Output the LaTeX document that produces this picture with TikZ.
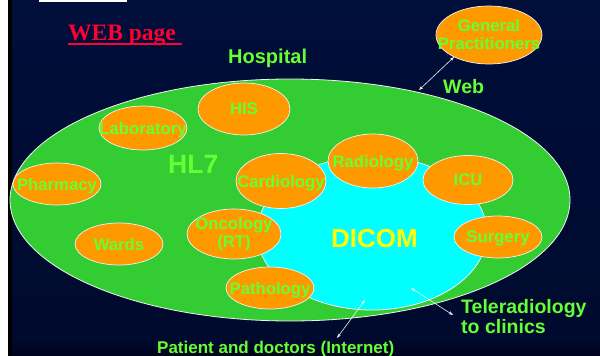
\documentclass[tikz,border=0pt]{standalone}
\usepackage{fontspec}
\setmainfont{Liberation Sans}
\newfontfamily\webserif{Liberation Serif}
\usetikzlibrary{shapes.geometric,arrows.meta}

\definecolor{navytop}{HTML}{000E3A}
\definecolor{navybot}{HTML}{000A2E}
\definecolor{navyband}{HTML}{00031C}
\definecolor{hospgreen}{HTML}{33CC33}
\definecolor{dicomcyan}{HTML}{00FFFF}
\definecolor{deptorange}{HTML}{FF9900}
\definecolor{limetext}{HTML}{66FF33}
\definecolor{dicomyellow}{HTML}{FFFF00}
\definecolor{webred}{HTML}{FF0033}
\definecolor{rimwhite}{HTML}{F2F2F2}

\tikzset{
  dept/.style={ellipse, draw=rimwhite, fill=deptorange, line width=0.7pt, inner sep=0pt},
  deptlabel/.style={text=limetext, font=\bfseries\fontsize{16.7}{18}\selectfont, align=center, inner sep=0pt},
  oneline/.style={deptlabel, text depth=0pt},
  caption/.style={text=limetext, font=\bfseries\fontsize{19.5}{20}\selectfont, anchor=base west, inner sep=0pt, align=left},
  link/.style={draw=rimwhite, line width=0.6pt, {Stealth[length=4.5pt,width=3.2pt]}-{Stealth[length=4.5pt,width=3.2pt]}}
}

\begin{document}
\begin{tikzpicture}[x=1pt, y=-1pt]
  \useasboundingbox (0,0) rectangle (600,356);

  % backdrop: white margin, dark rule, navy field
  \fill[white] (0,0) rectangle (8,356);
  \fill[black] (8,0) rectangle (12,356);
  \shade[top color=navytop, bottom color=navybot] (12,0) rectangle (600,339);
  \shade[top color=navybot, bottom color=navyband] (12,339) rectangle (600,356);
  \fill[white] (39,0) rectangle (127,2);

  % hospital domain and DICOM domain
  \node[ellipse, draw=rimwhite, fill=hospgreen, line width=0.8pt, inner sep=0pt,
        minimum width=560pt, minimum height=242pt] (hosp) at (290,200) {};
  \node[ellipse, draw=rimwhite, fill=dicomcyan, line width=0.8pt, inner sep=0pt,
        minimum width=230pt, minimum height=154pt] (dicom) at (372,233) {};

  % departments
  \node[dept, minimum width=92pt, minimum height=52pt, label={[oneline]center:HIS}] (his) at (244,109) {};
  \node[dept, minimum width=88pt, minimum height=44pt, label={[oneline]center:Laboratory}] (lab) at (143,128) {};
  \node[dept, minimum width=88pt, minimum height=42pt, label={[oneline]center:Pharmacy}] (pharm) at (57,184) {};
  \node[dept, minimum width=88pt, minimum height=42pt, label={[oneline]center:Wards}] (wards) at (119,244) {};
  \node[dept, minimum width=94pt, minimum height=50pt, label={[deptlabel]center:Oncology\\(RT)}] (onc) at (234,234) {};
  \node[dept, minimum width=90pt, minimum height=55pt, label={[oneline]center:Cardiology}] (cardio) at (281,181) {};
  \node[dept, minimum width=88pt, minimum height=42pt, label={[oneline]center:Pathology}] (patho) at (270,288) {};
  \node[dept, minimum width=90pt, minimum height=54pt, label={[oneline]center:Radiology}] (radio) at (373,161) {};
  \node[dept, minimum width=90pt, minimum height=49pt, label={[oneline]center:ICU}] (icu) at (468,180) {};
  \node[dept, minimum width=88pt, minimum height=42pt, label={[oneline]center:Surgery}] (surgery) at (498,237) {};
  \node[dept, minimum width=106pt, minimum height=58pt, label={[deptlabel]center:General\\Practitioners}] (gp) at (489,35) {};

  % titles and captions
  \node[anchor=base west, inner sep=0pt, text=webred, font=\webserif\bfseries\fontsize{23.5}{24}\selectfont] (webpage) at (68,40) {WEB page};
  \draw[webred, line width=2pt] ([yshift=-3.5pt]webpage.base west) -- ++(114,0);
  \node[caption, font=\bfseries\fontsize{20}{20}\selectfont] (hosplabel) at (228,63) {Hospital};
  \node[caption] (weblabel) at (443,93) {Web};
  \node[caption, font=\bfseries\fontsize{26.5}{27}\selectfont] (hl7) at (168,173) {HL7};
  \node[caption, text=dicomyellow, font=\bfseries\fontsize{26}{27}\selectfont] (dicomlabel) at (331,247) {DICOM};
  \node[caption, font=\bfseries\fontsize{19.5}{20}\selectfont] (tele) at (461,333) {Teleradiology\\to clinics};
  \node[caption, font=\bfseries\fontsize{17}{18}\selectfont] (patients) at (157,353) {Patient and doctors (Internet)};

  % communication links
  \coordinate (webend) at (419,90);
  \coordinate (gpend) at (454,57);
  \coordinate (netin) at (365,300);
  \coordinate (netout) at (337,338);
  \coordinate (telein) at (411,288);
  \coordinate (teleout) at (453,315);
  \draw[link] (webend) -- (gpend);
  \draw[link] (netin) -- (netout);
  \draw[link] (telein) -- (teleout);
\end{tikzpicture}
\end{document}
